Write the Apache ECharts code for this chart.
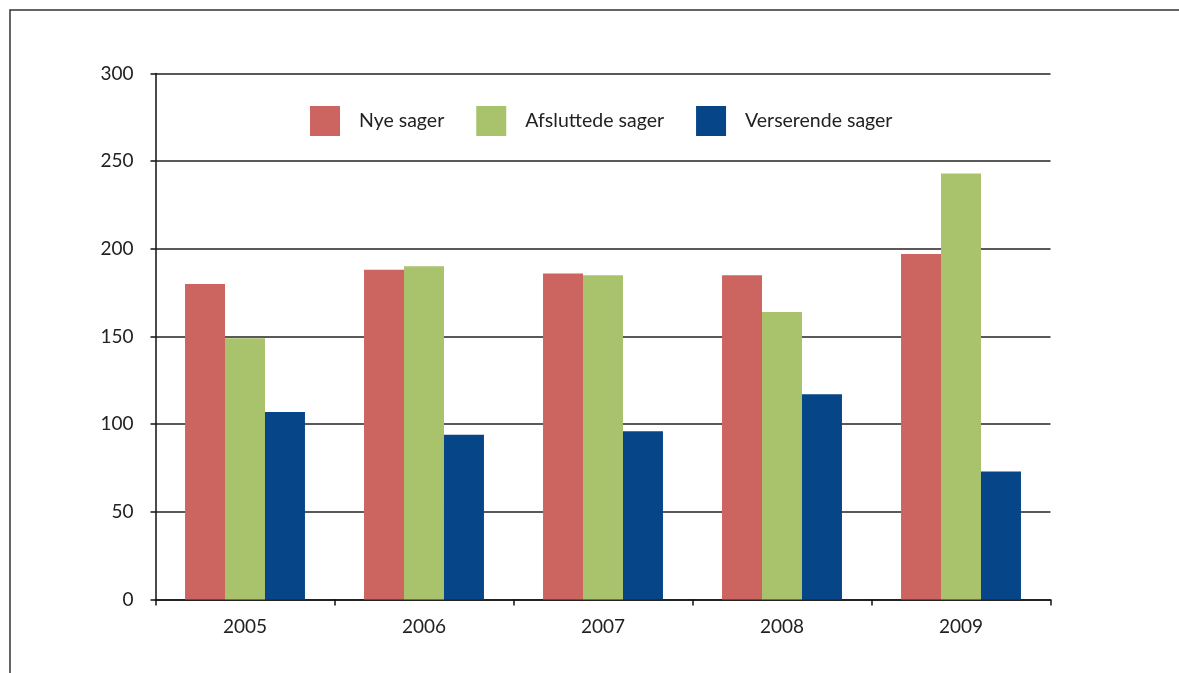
<!DOCTYPE html>
<html>
<head>
<meta charset="utf-8">
<script src="https://cdn.jsdelivr.net/npm/echarts@6/dist/echarts.min.js"></script>
<style>
html,body{margin:0;padding:0;background:#fff;}
#chart{width:1179px;height:673px;}
</style>
</head>
<body>
<div id="chart"></div>
<script>
const categories = ['2005', '2006', '2007', '2008', '2009'];
const seriesNames = ['Nye sager', 'Afsluttede sager', 'Verserende sager'];
const nyeSager = [180, 188, 186, 185, 197];
const afsluttedeSager = [149, 190, 185, 164, 243];
const verserendeSager = [107, 94, 96, 117, 73];
const colors = ['#CC6560', '#A9C26C', '#064587'];

const FONT = 'Lato';
const chart = echarts.init(document.getElementById('chart'));
const values = [nyeSager, afsluttedeSager, verserendeSager];

chart.setOption({
  animation: false,
  backgroundColor: '#fff',
  textStyle: { fontFamily: FONT },
  graphic: [{
    type: 'rect',
    shape: { x: 10, y: 10, width: 1300, height: 800 },
    style: { fill: 'none', stroke: '#333', lineWidth: 1.5 },
    z: 0
  }],
  legend: {
    left: 305,
    top: 101,
    itemWidth: 30,
    itemHeight: 30,
    itemGap: 32,
    icon: 'rect',
    textStyle: { fontFamily: FONT, fontSize: 19.5, color: '#222', padding: [0, 0, 0, 14] },
    data: seriesNames
  },
  grid: { left: 155.5, right: 128.5, top: 73.5, bottom: 73.5, containLabel: false },
  xAxis: {
    type: 'category',
    data: categories,
    axisLine: { show: true, lineStyle: { color: '#111', width: 1.5 } },
    axisTick: { show: true, length: 6, alignWithLabel: false, lineStyle: { color: '#111', width: 1.5 } },
    axisLabel: { fontFamily: FONT, fontSize: 19, color: '#222', margin: 18 },
    splitLine: { show: false }
  },
  yAxis: {
    type: 'value',
    min: 0,
    max: 300,
    interval: 50,
    axisLine: { show: true, lineStyle: { color: '#111', width: 1.5 } },
    axisTick: { show: true, length: 5, lineStyle: { color: '#111', width: 1.5 } },
    axisLabel: { fontFamily: FONT, fontSize: 19, color: '#222', margin: 22 },
    splitLine: { show: true, lineStyle: { color: '#222', width: 1.5 } }
  },
  series: seriesNames.map((name, i) => ({
    name: name,
    type: 'bar',
    data: values[i],
    barGap: '0%',
    barCategoryGap: '33%',
    itemStyle: { color: colors[i] }
  }))
});
</script>
</body>
</html>
